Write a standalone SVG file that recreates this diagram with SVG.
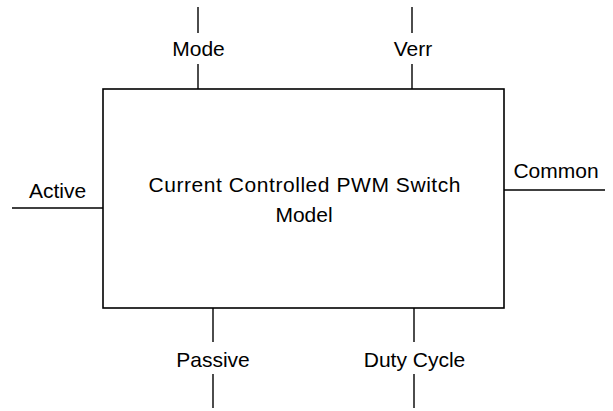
<svg xmlns="http://www.w3.org/2000/svg" width="613" height="411" viewBox="0 0 613 411">
<style>
.t{font-family:"Liberation Sans",Arial,sans-serif;font-size:21px;fill:#000;text-anchor:middle}
.w{stroke:#000;stroke-width:1.4;fill:none}
.b{stroke:#000;stroke-width:1.6;fill:#fff}
</style>
<rect width="613" height="411" fill="#fff"/>
<g id="connectors">
<line class="w" x1="198" y1="7" x2="198" y2="33"/>
<line class="w" x1="198" y1="64" x2="198" y2="89"/>
<line class="w" x1="412" y1="7" x2="412" y2="33"/>
<line class="w" x1="412" y1="64" x2="412" y2="89"/>
<line class="w" x1="12" y1="208" x2="103" y2="208"/>
<line class="w" x1="504" y1="190" x2="605" y2="190"/>
<line class="w" x1="213" y1="308" x2="213" y2="342"/>
<line class="w" x1="213" y1="374" x2="213" y2="408"/>
<line class="w" x1="414" y1="308" x2="414" y2="342"/>
<line class="w" x1="414" y1="374" x2="414" y2="408"/>
</g>
<g id="switch-model">
<rect class="b" x="103" y="89" width="401" height="219"/>
<text class="t" x="304.5" y="192" textLength="312" lengthAdjust="spacing">Current Controlled PWM Switch</text>
<text class="t" x="304" y="222">Model</text>
</g>
<g id="pin-mode"><text class="t" x="198.5" y="56">Mode</text></g>
<g id="pin-verr"><text class="t" x="413" y="56">Verr</text></g>
<g id="pin-active"><text class="t" x="57.5" y="198">Active</text></g>
<g id="pin-common"><text class="t" x="556" y="178">Common</text></g>
<g id="pin-passive"><text class="t" x="213" y="367">Passive</text></g>
<g id="pin-duty"><text class="t" x="414.5" y="367">Duty Cycle</text></g>
</svg>
